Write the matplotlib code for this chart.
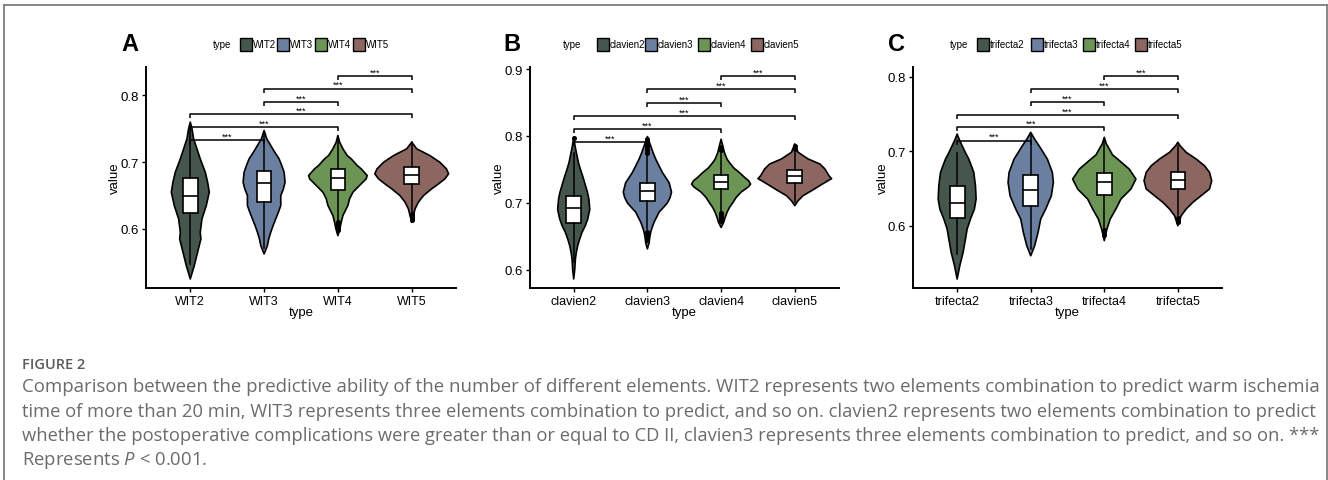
import numpy as np
import matplotlib
matplotlib.use('Agg')
import matplotlib.pyplot as plt
from matplotlib.patches import Rectangle
from matplotlib.lines import Line2D

plt.rcParams['font.family'] = ['Liberation Sans', 'DejaVu Sans']
plt.rcParams['mathtext.fontset'] = 'custom'
plt.rcParams['mathtext.it'] = 'Open Sans:italic'
plt.rcParams['mathtext.rm'] = 'Open Sans'

W, H = 1328, 481
colors = ['#45574c', '#6b7fa0', '#6b9455', '#8c6660']
pairs = [(1, 2), (1, 3), (1, 4), (2, 3), (2, 4), (3, 4)]

# ---- panel A : WIT ----
a_cats = ['WIT2', 'WIT3', 'WIT4', 'WIT5']
a_q1 = [0.624, 0.641, 0.659, 0.6666]
a_med = [0.650, 0.669, 0.6765, 0.681]
a_q3 = [0.676, 0.6875, 0.690, 0.6926]
a_lo = [0.548, 0.572, 0.6125, 0.626]
a_hi = [0.752, 0.745, 0.7365, 0.7295]
a_out = [[], [], [0.610, 0.607, 0.604, 0.601, 0.598], [0.623, 0.620, 0.617, 0.614]]
a_vy = [
    [0.760, 0.750, 0.735, 0.720, 0.705, 0.685, 0.670, 0.655, 0.635, 0.615, 0.595, 0.585, 0.565, 0.545, 0.525],
    [0.7475, 0.735, 0.725, 0.715, 0.705, 0.695, 0.685, 0.670, 0.660, 0.650, 0.635, 0.625, 0.615, 0.605, 0.595, 0.585, 0.575, 0.5625],
    [0.740, 0.730, 0.720, 0.710, 0.705, 0.695, 0.690, 0.680, 0.675, 0.670, 0.660, 0.655, 0.645, 0.635, 0.625, 0.620, 0.610, 0.600, 0.590],
    [0.730, 0.720, 0.710, 0.700, 0.690, 0.6826, 0.675, 0.6676, 0.660, 0.650, 0.640, 0.630, 0.620, 0.610],
]
a_vw = [
    [0, .023, .045, .09, .135, .203, .235, .257, .217, .158, .135, .144, .099, .054, 0],
    [0, .036, .09, .144, .203, .239, .271, .284, .262, .226, .226, .194, .158, .122, .09, .063, .045, 0],
    [0, .023, .068, .126, .18, .262, .316, .397, .383, .338, .248, .203, .158, .135, .09, .068, .045, .027, 0],
    [0, .068, .244, .38, .47, .50, .45, .365, .27, .16, .09, .045, .023, 0],
]
a_br = [0.7325, 0.7525, 0.7715, 0.790, 0.810, 0.829]

# ---- panel B : clavien ----
b_cats = ['clavien2', 'clavien3', 'clavien4', 'clavien5']
b_q1 = [0.670, 0.702, 0.720, 0.7296]
b_med = [0.692, 0.7175, 0.731, 0.7405]
b_q3 = [0.710, 0.7295, 0.742, 0.749]
b_lo = [0.612, 0.661, 0.687, 0.7005]
b_hi = [0.775, 0.771, 0.775, 0.778]
b_out = [[0.7965],
         [0.775, 0.779, 0.783, 0.787, 0.791, 0.795, 0.656, 0.652, 0.648, 0.644],
         [0.684, 0.681, 0.678, 0.675, 0.672, 0.779, 0.783],
         [0.781, 0.785]]
b_vy = [
    [0.798, 0.785, 0.775, 0.760, 0.750, 0.738, 0.726, 0.716, 0.706, 0.690, 0.676, 0.666, 0.656, 0.646, 0.636, 0.626, 0.616, 0.600, 0.586],
    [0.799, 0.785, 0.775, 0.765, 0.755, 0.745, 0.730, 0.720, 0.716, 0.708, 0.700, 0.693, 0.686, 0.678, 0.671, 0.663, 0.656, 0.648, 0.640, 0.631],
    [0.795, 0.785, 0.775, 0.765, 0.760, 0.752, 0.745, 0.738, 0.733, 0.728, 0.724, 0.716, 0.708, 0.700, 0.693, 0.686, 0.678, 0.671, 0.663],
    [0.788, 0.7755, 0.7655, 0.758, 0.7505, 0.7405, 0.736, 0.733, 0.7256, 0.718, 0.7106, 0.703, 0.6957],
]
b_vw = [
    [0, .018, .036, .064, .091, .127, .159, .186, .205, .218, .191, .159, .114, .082, .055, .036, .023, .014, 0],
    [0, .045, .077, .114, .159, .205, .295, .318, .327, .309, .273, .218, .159, .123, .091, .064, .045, .032, .023, 0],
    [0, .023, .045, .082, .114, .173, .25, .318, .373, .4, .373, .273, .205, .159, .114, .082, .055, .036, 0],
    [0, .045, .181, .34, .409, .463, .5, .45, .34, .228, .113, .045, 0],
]
b_br = [0.7904, 0.8103, 0.8292, 0.849, 0.870, 0.889]

# ---- panel C : trifecta ----
c_cats = ['trifecta2', 'trifecta3', 'trifecta4', 'trifecta5']
c_q1 = [0.610, 0.6268, 0.6412, 0.6492]
c_med = [0.6304, 0.6483, 0.6582, 0.6617]
c_q3 = [0.6537, 0.668, 0.6707, 0.6725]
c_lo = [0.562, 0.569, 0.597, 0.6143]
c_hi = [0.697, 0.723, 0.715, 0.7075]
c_out = [[], [], [0.594, 0.591, 0.588], [0.611, 0.608, 0.605]]
c_vy = [
    [0.723, 0.715, 0.7074, 0.698, 0.6895, 0.680, 0.6716, 0.6537, 0.6358, 0.6224, 0.609, 0.5955, 0.582, 0.5642, 0.5463, 0.5284],
    [0.7253, 0.716, 0.7074, 0.698, 0.6895, 0.6716, 0.6582, 0.6403, 0.6224, 0.609, 0.591, 0.5732, 0.5597],
    [0.7186, 0.710, 0.703, 0.695, 0.6895, 0.676, 0.6626, 0.6492, 0.6358, 0.6224, 0.609, 0.5955, 0.580],
    [0.712, 0.7074, 0.6985, 0.6895, 0.6805, 0.6717, 0.6604, 0.6493, 0.6403, 0.6314, 0.6224, 0.6134, 0.600],
]
c_vw = [
    [0, .032, .068, .113, .158, .195, .226, .249, .258, .235, .181, .136, .113, .081, .036, 0],
    [0, .054, .113, .172, .226, .294, .308, .281, .204, .136, .1, .054, 0],
    [0, .027, .068, .113, .181, .339, .43, .362, .226, .158, .081, .036, 0],
    [0, .03, .113, .249, .362, .43, .46, .43, .317, .204, .113, .045, 0],
]
c_br = [0.7141, 0.732, 0.7485, 0.7655, 0.7834, 0.8004]

panels = [
    dict(letter='A', cats=a_cats, q1=a_q1, med=a_med, q3=a_q3, lo=a_lo, hi=a_hi, out=a_out,
         vy=a_vy, vw=a_vw, br=a_br, ylim=(0.5115, 0.843), yt=[0.6, 0.7, 0.8],
         box=(146, 456, 67.7, 289), letter_x=121, ylab_x=115, type_x=213,
         keys=[240, 276.7, 315, 353.3]),
    dict(letter='B', cats=b_cats, q1=b_q1, med=b_med, q3=b_q3, lo=b_lo, hi=b_hi, out=b_out,
         vy=b_vy, vw=b_vw, br=b_br, ylim=(0.572, 0.9035), yt=[0.6, 0.7, 0.8, 0.9],
         box=(529.5, 839, 67.7, 289.3), letter_x=503, ylab_x=499, type_x=563,
         keys=[596.7, 645, 698.3, 750.7]),
    dict(letter='C', cats=c_cats, q1=c_q1, med=c_med, q3=c_q3, lo=c_lo, hi=c_hi, out=c_out,
         vy=c_vy, vw=c_vw, br=c_br, ylim=(0.516, 0.8134), yt=[0.6, 0.7, 0.8],
         box=(913, 1222, 67.7, 289.3), letter_x=888, ylab_x=883, type_x=950,
         keys=[977.3, 1031, 1083.3, 1135]),
]

fig = plt.figure(figsize=(W / 100, H / 100), dpi=100)


def fx(px):
    return px / W


def fy(py):
    return 1 - py / H


for p in panels:
    x0, x1, y0, y1 = p['box']
    ax = fig.add_axes([fx(x0), fy(y1), (x1 - x0) / W, (y1 - y0) / H])
    ax.set_xlim(0.4, 4.6)
    ax.set_ylim(*p['ylim'])
    for s in ['top', 'right']:
        ax.spines[s].set_visible(False)
    for s in ['left', 'bottom']:
        ax.spines[s].set_linewidth(1.4)
    ax.tick_params(length=3, width=1, labelsize=9, colors='black', pad=2)
    ax.tick_params(axis='y', labelsize=9.5)
    ax.set_xticks([1, 2, 3, 4])
    ax.set_xticklabels(p['cats'])
    ax.set_yticks(p['yt'])
    ax.set_yticklabels([f'{v:.1f}' for v in p['yt']])

    for i in range(4):
        x = i + 1
        vy = np.array(p['vy'][i])
        vw = np.array(p['vw'][i])
        xs = np.concatenate([x - vw, (x + vw)[::-1]])
        ys = np.concatenate([vy, vy[::-1]])
        ax.fill(xs, ys, facecolor=colors[i], edgecolor='black', lw=1.2,
                joinstyle='round', zorder=2)

    stats = []
    for i in range(4):
        stats.append(dict(med=p['med'][i], q1=p['q1'][i], q3=p['q3'][i],
                          whislo=p['lo'][i], whishi=p['hi'][i], fliers=p['out'][i]))
    ax.bxp(stats, positions=[1, 2, 3, 4], widths=0.2, patch_artist=True,
           showcaps=False, manage_ticks=False,
           boxprops=dict(facecolor='white', edgecolor='black', lw=1.2),
           medianprops=dict(color='black', lw=1.2),
           whiskerprops=dict(color='black', lw=1.1),
           flierprops=dict(marker='o', markersize=2.6, markerfacecolor='black',
                           markeredgecolor='black'),
           zorder=3)

    tip = 0.018 * (p['ylim'][1] - p['ylim'][0])
    for (a, b), h in zip(pairs, p['br']):
        ax.plot([a, a, b, b], [h - tip, h, h, h - tip], color='black', lw=1.1,
                zorder=4, solid_capstyle='butt')
        ax.annotate('***', xy=((a + b) / 2, h), xytext=(0, 1.2),
                    textcoords='offset points', ha='center', va='baseline',
                    fontsize=6.5, zorder=5)

    # axis titles
    fig.text(fx(p['ylab_x']), fy((y0 + y1) / 2), 'value', rotation=90,
             ha='center', va='center', fontsize=9.5)
    fig.text(fx((x0 + x1) / 2), fy(313), 'type', ha='center', va='center',
             fontsize=9.5)

    # panel letter
    fig.text(fx(p['letter_x']), fy(45), p['letter'], ha='left', va='center',
             fontsize=17, fontweight='bold')

    # legend
    fig.text(fx(p['type_x']), fy(45.5), 'type', ha='left', va='center', fontsize=7)
    for i, kx in enumerate(p['keys']):
        fig.patches.append(Rectangle((fx(kx), fy(52)), 12 / W, 13 / H,
                                     transform=fig.transFigure, facecolor=colors[i],
                                     edgecolor='black', lw=1.0))
        fig.text(fx(kx + 12.8), fy(45.5), p['cats'][i], ha='left', va='center',
                 fontsize=7)

# frame
fc = '#7d7d7d'
fig.add_artist(Line2D([fx(4), fx(1327)], [fy(6), fy(6)], color=fc, lw=1.3))
fig.add_artist(Line2D([fx(4), fx(4)], [fy(6), 0], color=fc, lw=1.3))
fig.add_artist(Line2D([fx(1327), fx(1327)], [fy(6), 0], color=fc, lw=1.3))

# caption
fig.text(fx(21.5), fy(369.3), 'FIGURE 2', ha='left', va='baseline', fontsize=10.5,
         family='Open Sans', fontweight='semibold', color='#5c5c5c')
cap_lines = [
    'Comparison between the predictive ability of the number of different elements. WIT2 represents two elements combination to predict warm ischemia',
    'time of more than 20 min, WIT3 represents three elements combination to predict, and so on. clavien2 represents two elements combination to predict',
    'whether the postoperative complications were greater than or equal to CD II, clavien3 represents three elements combination to predict, and so on. ***',
    r'Represents $P$ < 0.001.',
]
cap_base = [392.3, 416.7, 441.0, 465.3]
texts = []
for line, yb in zip(cap_lines, cap_base):
    texts.append(fig.text(fx(21.5), fy(yb), line, ha='left', va='baseline',
                          fontsize=12, family='Open Sans', color='#6b6b6b'))
# the reference caption is justified: fit the first three lines to ~1289 px
r = fig.canvas.get_renderer()
sizes = []
for t in texts[:3]:
    wid = t.get_window_extent(r).width
    sizes.append(12 * 1289 / wid)
    t.set_fontsize(sizes[-1])
texts[3].set_fontsize(np.mean(sizes))

fig.savefig('out.png', dpi=100)
